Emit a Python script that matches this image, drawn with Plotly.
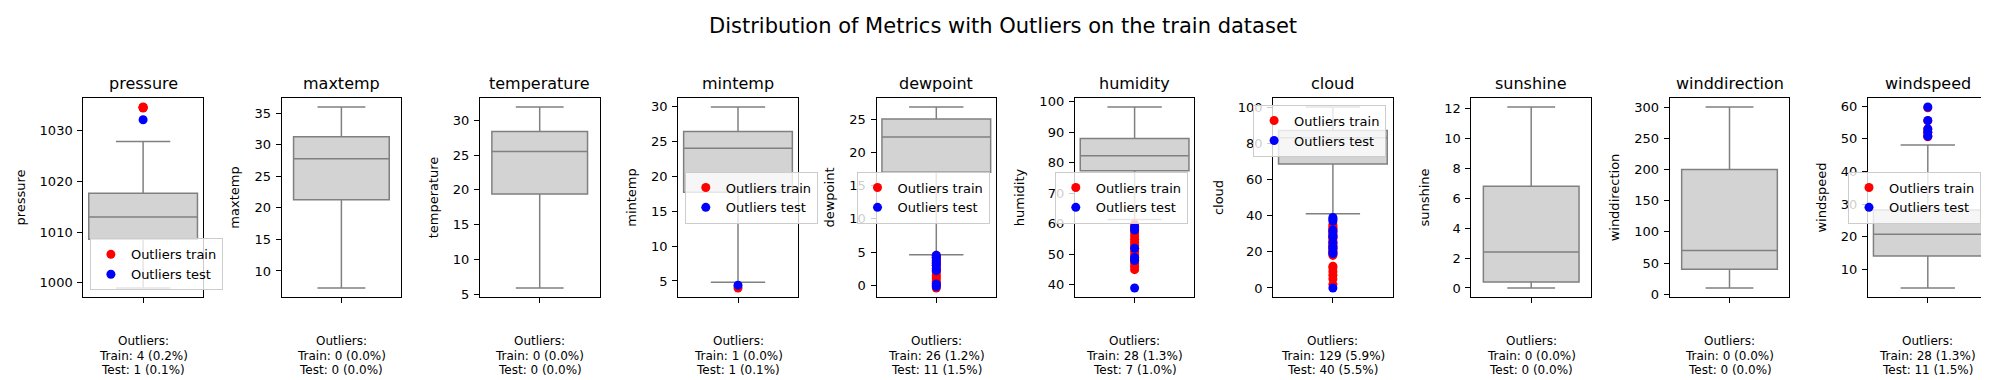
import plotly.graph_objects as go

# ---------------- data ----------------
metrics = ["pressure", "maxtemp", "temperature", "mintemp", "dewpoint",
           "humidity", "cloud", "sunshine", "winddirection", "windspeed"]

q1 = [1008.6, 21.3, 19.4, 17.7, 17.0, 77.4, 68.5, 0.4, 40.0, 14.2]
median = [1013.0, 27.8, 25.5, 24.0, 22.3, 82.3, 83.0, 2.4, 70.0, 20.8]
q3 = [1017.7, 31.3, 28.4, 26.4, 25.0, 88.0, 87.0, 6.8, 200.0, 28.2]
lower_whisker = [999.0, 7.3, 5.9, 4.8, 4.6, 61.4, 41.0, 0.0, 10.0, 4.4]
upper_whisker = [1027.9, 36.0, 31.9, 29.9, 26.8, 98.3, 100.0, 12.1, 300.0, 48.1]

outliers_train_pressure = [1034.6, 1034.5, 1034.7, 1034.6]
outliers_test_pressure = [1032.2]
outliers_train_mintemp = [4.0]
outliers_test_mintemp = [4.4]
outliers_train_dewpoint = [-0.4, 0.0, 0.3, 0.6, 1.0, 1.3, 1.6, 2.0, 2.3, 2.6, 3.0, 3.3, 3.6, 4.0, 4.2, 4.5]
outliers_test_dewpoint = [-0.2, 0.2, 2.2, 2.5, 3.0, 3.4, 3.8, 4.2, 4.5]
outliers_train_humidity = [45, 46, 47, 48, 49, 50, 51, 52, 53, 54, 55, 56, 57, 58, 59, 60]
outliers_test_humidity = [39, 48, 49, 52, 58, 59]
outliers_train_cloud = [2, 5, 7, 9, 11, 12, 18, 19, 20, 21, 22, 23, 24, 25, 26, 27,
                        28, 29, 30, 31, 32, 33, 34, 35]
outliers_test_cloud = [0, 19, 20, 22, 23, 25, 28, 29, 31, 32, 37, 38, 39]
outliers_train_windspeed = [50.6, 51.0, 52.0, 53.0, 55.5, 59.5]
outliers_test_windspeed = [50.8, 52.0, 53.0, 55.6, 59.7]

outliers_train = {"pressure": outliers_train_pressure, "mintemp": outliers_train_mintemp,
                  "dewpoint": outliers_train_dewpoint, "humidity": outliers_train_humidity,
                  "cloud": outliers_train_cloud, "windspeed": outliers_train_windspeed}
outliers_test = {"pressure": outliers_test_pressure, "mintemp": outliers_test_mintemp,
                 "dewpoint": outliers_test_dewpoint, "humidity": outliers_test_humidity,
                 "cloud": outliers_test_cloud, "windspeed": outliers_test_windspeed}

train_count = [4, 0, 0, 1, 26, 28, 129, 0, 0, 28]
train_pct = [0.2, 0.0, 0.0, 0.0, 1.2, 1.3, 5.9, 0.0, 0.0, 1.3]
test_count = [1, 0, 0, 1, 11, 7, 40, 0, 0, 11]
test_pct = [0.1, 0.0, 0.0, 0.1, 1.5, 1.0, 5.5, 0.0, 0.0, 1.5]

# ---------------- layout / style ----------------
W, H = 1989, 380
FONT = "DejaVu Sans"
ax_left0, ax_step, ax_w = 75.3, 198.3, 119.6
ax_top, ax_bot = 90.0, 289.0
dticks = [10, 5, 5, 5, 5, 10, 20, 2, 50, 10]
legend_loc = {"pressure": "lower left", "mintemp": "center left", "dewpoint": "center right",
              "humidity": "center right", "cloud": "upper right", "windspeed": "center right"}

fig = go.Figure()
layout = dict(
    width=W, height=H, margin=dict(l=0, r=0, t=0, b=0),
    paper_bgcolor="white", plot_bgcolor="white",
    font=dict(family=FONT, size=13, color="black"),
    showlegend=True,
)
annotations = []

def px2x(p):
    return p / W

def px2y(p):
    return 1 - p / H

legend_idx = 0
for i, m in enumerate(metrics):
    xa = "x" if i == 0 else f"x{i+1}"
    ya = "y" if i == 0 else f"y{i+1}"
    xkey = "xaxis" if i == 0 else f"xaxis{i+1}"
    ykey = "yaxis" if i == 0 else f"yaxis{i+1}"
    left = ax_left0 + i * ax_step
    right = left + ax_w

    fig.add_trace(go.Box(
        x=[0], q1=[q1[i]], median=[median[i]], q3=[q3[i]],
        lowerfence=[lower_whisker[i]], upperfence=[upper_whisker[i]],
        width=0.8, whiskerwidth=0.5, fillcolor="#d3d3d3",
        line=dict(color="#808080", width=1.5), showlegend=False,
        xaxis=xa, yaxis=ya, hoverinfo="skip"))

    vals = [lower_whisker[i], upper_whisker[i]]
    has_out = m in outliers_train
    if has_out:
        legend_idx += 1
        lname = "legend" if legend_idx == 1 else f"legend{legend_idx}"
        tr = outliers_train[m]
        te = outliers_test[m]
        vals += tr + te
        fig.add_trace(go.Scatter(x=[0] * len(tr), y=tr, mode="markers", name="Outliers train",
                                 marker=dict(color="#ff0000", size=9, line=dict(width=0)),
                                 xaxis=xa, yaxis=ya, legend=lname))
        fig.add_trace(go.Scatter(x=[0] * len(te), y=te, mode="markers", name="Outliers test",
                                 marker=dict(color="#0000ff", size=9, line=dict(width=0)),
                                 xaxis=xa, yaxis=ya, legend=lname))
        loc = legend_loc[m]
        pad = 6.6
        if "left" in loc:
            lx, xanch = left + pad, "left"
        else:
            lx, xanch = right - pad, "right"
        if loc.startswith("lower"):
            ly, yanch = ax_bot - pad, "bottom"
        elif loc.startswith("upper"):
            ly, yanch = ax_top + pad, "top"
        else:
            ly, yanch = (ax_top + ax_bot) / 2, "middle"
        layout[lname] = dict(
            x=px2x(lx), y=px2y(ly), xanchor=xanch, yanchor=yanch,
            xref="paper", yref="paper",
            bgcolor="rgba(255,255,255,0.8)", bordercolor="#cccccc", borderwidth=1,
            font=dict(family=FONT, size=13, color="black"),
            itemsizing="trace", tracegroupgap=0)
    lo, hi = min(vals), max(vals)
    padv = 0.05 * (hi - lo)
    xr = 0.44 if has_out else 0.5

    layout[xkey] = dict(
        domain=[px2x(left), px2x(right)], anchor=ya, range=[-xr, xr],
        tickvals=[0], ticktext=[""], ticks="outside", ticklen=5, tickwidth=1,
        tickcolor="black", showline=True, mirror=True, linecolor="black", linewidth=1,
        showgrid=False, zeroline=False, fixedrange=True)
    layout[ykey] = dict(
        domain=[px2y(ax_bot), px2y(ax_top)], anchor=xa, range=[lo - padv, hi + padv],
        dtick=dticks[i], ticks="outside", ticklen=5, tickwidth=1, tickcolor="black",
        showline=True, mirror=True, linecolor="black", linewidth=1,
        showgrid=False, zeroline=False, automargin=False, ticklabelstandoff=2,
        tickfont=dict(family=FONT, size=13, color="black"),
        title=dict(text=m, font=dict(family=FONT, size=13, color="black"), standoff=11))

    cx = px2x((left + right) / 2)
    annotations.append(dict(text=m, x=cx, y=px2y(76), xref="paper", yref="paper",
                            xanchor="center", yanchor="middle", showarrow=False,
                            font=dict(family=FONT, size=16, color="black")))
    lines = ["Outliers:",
             f"Train: {train_count[i]} ({train_pct[i]:.1f}%)",
             f"Test: {test_count[i]} ({test_pct[i]:.1f}%)"]
    for k, (txt, yy) in enumerate(zip(lines, [332.7, 347.5, 362.3])):
        annotations.append(dict(text=txt, x=cx, y=px2y(yy), xref="paper", yref="paper",
                                xanchor="center", yanchor="middle", showarrow=False,
                                font=dict(family=FONT, size=12, color="black")))

annotations.append(dict(text="Distribution of Metrics with Outliers on the train dataset",
                        x=0.5, y=px2y(18.5), xref="paper", yref="paper",
                        xanchor="center", yanchor="middle", showarrow=False,
                        font=dict(family=FONT, size=21, color="black")))
layout["annotations"] = annotations
fig.update_layout(**layout)
fig.write_html("out.html")
